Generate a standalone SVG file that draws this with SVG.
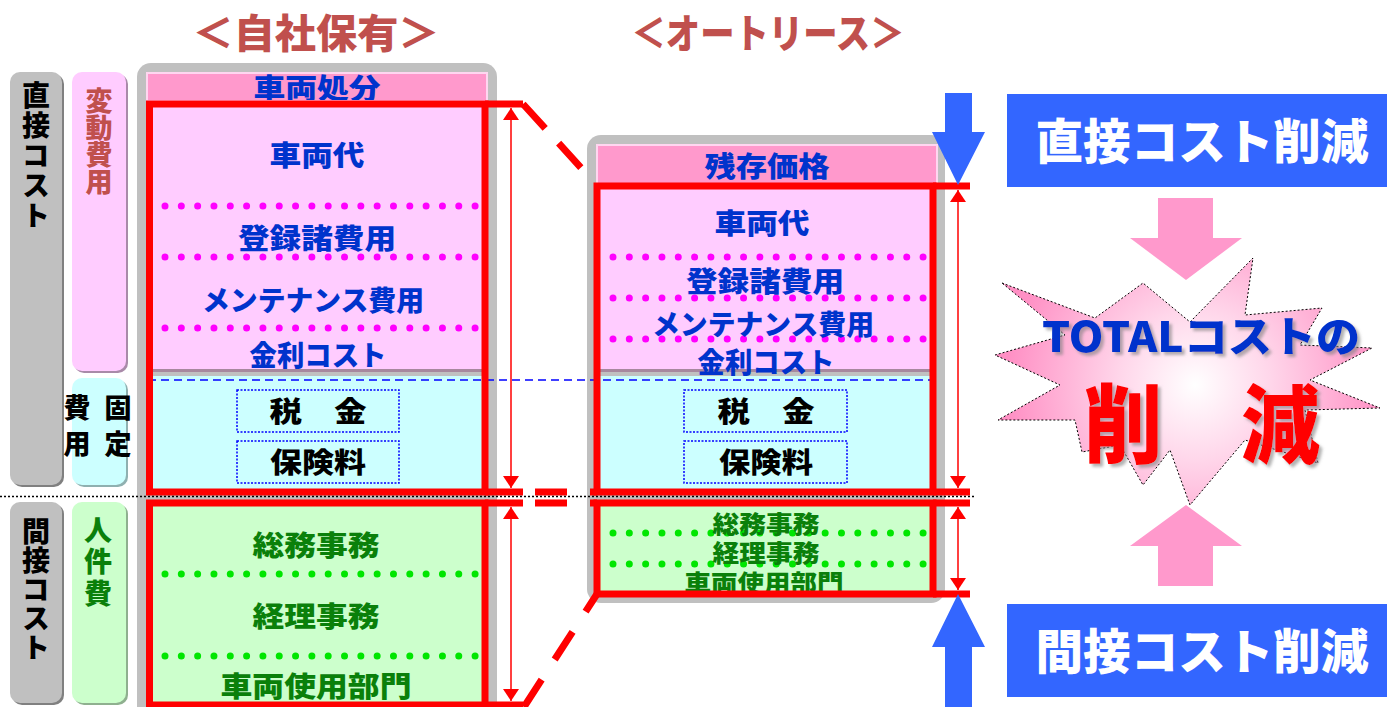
<svg xmlns="http://www.w3.org/2000/svg" width="1387" height="707" viewBox="0 0 1387 707">
<defs>
<style>
.t{font-family:'Noto Sans CJK JP','Noto Sans',sans-serif;font-weight:900;text-anchor:middle}
.v{font-family:'Noto Sans CJK JP','Noto Sans',sans-serif;font-weight:900;writing-mode:vertical-rl;text-anchor:start}
.blue{fill:#0033cc}
.grn{fill:#0a800a}
.blk{fill:#000}
.ttl{fill:#c0504d}
.frame{fill:none;stroke:#ff0000;stroke-width:7}
.ext{stroke:#ff0000;stroke-width:7;fill:none}
.dash{stroke:#ff0000;stroke-width:7;fill:none}
.mdot{stroke:#ff00ff;stroke-width:7;stroke-linecap:round;stroke-dasharray:0 16.32;fill:none}
.gdot{stroke:#00e600;stroke-width:7;stroke-linecap:round;stroke-dasharray:0 16.32;fill:none}
.dbox{fill:none;stroke:#0000ff;stroke-width:1.5;stroke-dasharray:2 1.5}
.dim{stroke:#ff0000;stroke-width:1.5;fill:none;marker-start:url(#ah);marker-end:url(#ah)}
</style>
<marker id="ah" viewBox="0 0 12 16" refX="12" refY="8" markerWidth="12" markerHeight="16" markerUnits="userSpaceOnUse" orient="auto-start-reverse">
<path d="M0,0 L12,8 L0,16 Z" fill="#ff0000"/>
</marker>
<radialGradient id="burst" cx="1195" cy="385" r="190" gradientUnits="userSpaceOnUse">
<stop offset="0" stop-color="#ffffff"/>
<stop offset="0.4" stop-color="#ffd6ea"/>
<stop offset="1" stop-color="#ff8fc4"/>
</radialGradient>
<filter id="sh" x="-10%" y="-10%" width="130%" height="140%">
<feDropShadow dx="3" dy="3" stdDeviation="1.5" flood-color="#808080" flood-opacity="0.6"/>
</filter>
</defs>

<!-- titles -->
<g id="title-own"><text class="t ttl" x="316" y="48" font-size="40" textLength="247" lengthAdjust="spacingAndGlyphs">＜自社保有＞</text></g>
<g id="title-lease"><text class="t ttl" x="768" y="48" font-size="40" textLength="273" lengthAdjust="spacingAndGlyphs">＜オートリース＞</text></g>

<!-- left category labels -->
<g id="cat-direct">
<rect x="12" y="74" width="52" height="413" rx="10" fill="#808080"/>
<rect x="10" y="72" width="52" height="413" rx="10" fill="#c0c0c0"/>
<text class="v blk" font-size="28" x="36" y="81" letter-spacing="2">直接コスト</text>
</g>
<g id="cat-variable">
<rect x="74" y="74" width="54" height="299" rx="10" fill="#a98aa9"/>
<rect x="72" y="72" width="54" height="299" rx="10" fill="#ffccff"/>
<text class="v ttl" font-size="27" x="99" y="87">変動費用</text>
</g>
<g id="cat-fixed">
<rect x="74" y="380" width="54" height="107" rx="10" fill="#8fb0b0"/>
<rect x="72" y="378" width="54" height="107" rx="10" fill="#ccffff"/>
<text class="v blk" font-size="27" x="118" y="394" letter-spacing="9">固定</text>
<text class="v blk" font-size="27" x="77" y="394" letter-spacing="9">費用</text>
</g>
<g id="cat-indirect">
<rect x="12" y="504" width="52" height="201" rx="10" fill="#808080"/>
<rect x="10" y="502" width="52" height="201" rx="10" fill="#c0c0c0"/>
<text class="v blk" font-size="28" x="36" y="517" letter-spacing="1">間接コスト</text>
</g>
<g id="cat-personnel">
<rect x="74" y="504" width="54" height="201" rx="10" fill="#8fb08f"/>
<rect x="72" y="502" width="54" height="201" rx="10" fill="#ccffcc"/>
<text class="v grn" font-size="28" x="98" y="516" letter-spacing="3.5">人件費</text>
</g>

<!-- left box: own -->
<g id="box-own">
<rect x="137" y="63" width="360" height="700" rx="14" fill="#c0c0c0"/>
<rect x="147" y="73" width="340" height="29" fill="#ff99cc" stroke="#ffd6f0" stroke-width="2"/>
<text class="t blue" font-size="28" x="317" y="99" textLength="127" lengthAdjust="spacingAndGlyphs">車両処分</text>
<rect x="147" y="100" width="340" height="272" fill="#ffccff"/>
<rect x="147" y="369" width="340" height="3" fill="#a7889e"/>
<rect x="147" y="376" width="340" height="116" fill="#ccffff"/>
<rect x="147" y="500" width="340" height="210" fill="#ccffcc"/>
<line class="mdot" x1="165" y1="206" x2="476" y2="206"/>
<line class="mdot" x1="165" y1="257" x2="476" y2="257"/>
<line class="mdot" x1="165" y1="328" x2="476" y2="328"/>
<line class="gdot" x1="165" y1="574" x2="476" y2="574"/>
<line class="gdot" x1="165" y1="656" x2="476" y2="656"/>
<text class="t blue" font-size="28" x="317" y="166" textLength="95" lengthAdjust="spacingAndGlyphs">車両代</text>
<text class="t blue" font-size="28" x="317" y="249" textLength="158" lengthAdjust="spacingAndGlyphs">登録諸費用</text>
<text class="t blue" font-size="28" x="313" y="311" textLength="222" lengthAdjust="spacingAndGlyphs">メンテナンス費用</text>
<text class="t blue" font-size="28" x="318" y="366" textLength="137" lengthAdjust="spacingAndGlyphs">金利コスト</text>
<rect class="dbox" x="237" y="390" width="162" height="42"/>
<rect class="dbox" x="237" y="441" width="162" height="42"/>
<text class="t blk" font-size="28" x="318" y="422" textLength="97" lengthAdjust="spacingAndGlyphs">税　金</text>
<text class="t blk" font-size="28" x="318" y="473" textLength="96" lengthAdjust="spacingAndGlyphs">保険料</text>
<text class="t grn" font-size="28" x="316" y="556" textLength="127" lengthAdjust="spacingAndGlyphs">総務事務</text>
<text class="t grn" font-size="28" x="316" y="627" textLength="127" lengthAdjust="spacingAndGlyphs">経理事務</text>
<text class="t grn" font-size="28" x="316" y="697" textLength="191" lengthAdjust="spacingAndGlyphs">車両使用部門</text>
</g>

<!-- right box: lease -->
<g id="box-lease">
<rect x="587" y="135" width="358" height="468" rx="14" fill="#c0c0c0"/>
<rect x="597" y="145" width="340" height="40" fill="#ff99cc" stroke="#ffd6f0" stroke-width="2"/>
<text class="t blue" font-size="28" x="767" y="177" textLength="125" lengthAdjust="spacingAndGlyphs">残存価格</text>
<rect x="597" y="185" width="336" height="187" fill="#ffccff"/>
<rect x="597" y="369" width="336" height="3" fill="#a7889e"/>
<rect x="597" y="376" width="336" height="116" fill="#ccffff"/>
<rect x="597" y="500" width="336" height="94" fill="#ccffcc"/>
<line class="mdot" x1="613" y1="257" x2="924" y2="257"/>
<line class="mdot" x1="613" y1="298" x2="924" y2="298"/>
<line class="mdot" x1="613" y1="339" x2="924" y2="339"/>
<line class="gdot" x1="613" y1="533" x2="924" y2="533"/>
<line class="gdot" x1="613" y1="564" x2="924" y2="564"/>
<text class="t blue" font-size="28" x="762" y="234" textLength="95" lengthAdjust="spacingAndGlyphs">車両代</text>
<text class="t blue" font-size="28" x="765" y="292" textLength="158" lengthAdjust="spacingAndGlyphs">登録諸費用</text>
<text class="t blue" font-size="28" x="763" y="335" textLength="222" lengthAdjust="spacingAndGlyphs">メンテナンス費用</text>
<text class="t blue" font-size="28" x="766" y="373" textLength="137" lengthAdjust="spacingAndGlyphs">金利コスト</text>
<rect class="dbox" x="684" y="390" width="163" height="42"/>
<rect class="dbox" x="684" y="441" width="163" height="42"/>
<text class="t blk" font-size="28" x="766" y="422" textLength="97" lengthAdjust="spacingAndGlyphs">税　金</text>
<text class="t blk" font-size="28" x="766" y="473" textLength="94" lengthAdjust="spacingAndGlyphs">保険料</text>
<text class="t grn" font-size="24" x="766" y="533" textLength="107" lengthAdjust="spacingAndGlyphs">総務事務</text>
<text class="t grn" font-size="24" x="766" y="562" textLength="107" lengthAdjust="spacingAndGlyphs">経理事務</text>
<text class="t grn" font-size="24" x="764" y="592" textLength="159" lengthAdjust="spacingAndGlyphs">車両使用部門</text>
</g>

<!-- result graphic -->
<g id="direct-reduction">
<rect x="1007" y="94" width="380" height="93" fill="#3366ff"/>
<text class="t" fill="#ffffff" font-size="48" x="1202" y="159" textLength="333" lengthAdjust="spacingAndGlyphs">直接コスト削減</text>
</g>
<g id="indirect-reduction">
<rect x="1007" y="604" width="380" height="93" fill="#3366ff"/>
<text class="t" fill="#ffffff" font-size="48" x="1202" y="669" textLength="333" lengthAdjust="spacingAndGlyphs">間接コスト削減</text>
</g>
<g id="total-reduction">
<polygon points="1002,283 1095,318 1143,283 1190,322 1253,258 1245,315 1322,308 1300,345 1372,348 1310,380 1380,408 1305,410 1318,463 1245,440 1190,505 1170,450 1143,485 1120,445 1082,452 1075,420 998,420 1060,385 995,355 1065,335" fill="url(#burst)" stroke="#000" stroke-width="1" stroke-dasharray="2 2"/>
<text class="t blue" font-size="42" x="1201" y="352" textLength="318" lengthAdjust="spacingAndGlyphs" font-weight="700" filter="url(#sh)">TOTALコストの</text>
<text class="t" fill="#ff0000" font-size="86" x="1202" y="457" textLength="236" lengthAdjust="spacingAndGlyphs" filter="url(#sh)">削　減</text>
</g>

<!-- connectors -->
<g id="connectors">
<line x1="148" y1="380" x2="930" y2="380" stroke="#0000ff" stroke-width="1.5" stroke-dasharray="8 5"/>
<rect class="frame" x="149.5" y="104" width="335.5" height="388"/>
<rect class="frame" x="149.5" y="503" width="335.5" height="202"/>
<rect class="frame" x="597" y="186" width="336" height="306"/>
<rect class="frame" x="597" y="503" width="336" height="91"/>
<path class="ext" d="M485,104 H523 M485,492 H523 M485,503 H523 M485,705 H523"/>
<path class="ext" d="M933,186 H970 M933,492 H970 M933,503 H970 M933,594 H970 M590,492 H597 M590,503 H597"/>
<path class="ext" d="M535,492 H567 M535,503 H567"/>
<path class="dash" d="M523,104 L583,170" stroke-dasharray="33 20"/>
<path class="dash" d="M597,594 L524,707" stroke-dasharray="21 24 33 24 40"/>
<line x1="0" y1="496.5" x2="975" y2="496.5" stroke="#000" stroke-width="1.5" stroke-dasharray="2 2"/>
<line class="dim" x1="511" y1="108" x2="511" y2="488"/>
<line class="dim" x1="511" y1="507" x2="511" y2="701"/>
<line class="dim" x1="958" y1="190" x2="958" y2="488"/>
<line class="dim" x1="958" y1="507" x2="958" y2="590"/>
<path d="M945,93 H972 V132 H985 L958,185 L932,132 H945 Z" fill="#3366ff"/>
<path d="M958,594 L985,647 H972 V707 H945 V647 H932 Z" fill="#3366ff"/>
<path d="M1158,198 H1213 V238 H1242 L1186,280 L1130,238 H1158 Z" fill="#ff99cc"/>
<path d="M1186,505 L1242,546 H1213 V586 H1158 V546 H1130 Z" fill="#ff99cc"/>
</g>
</svg>
